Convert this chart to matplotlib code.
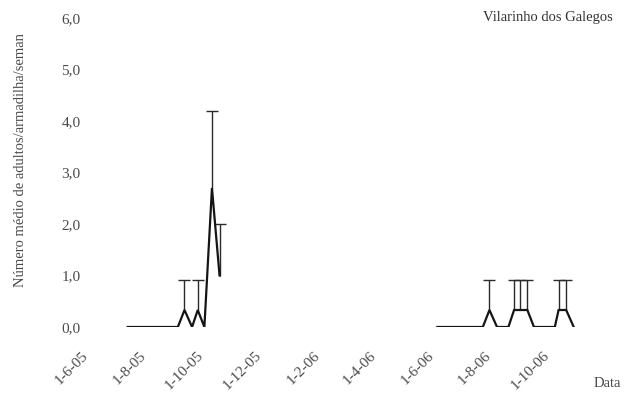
import datetime as dt

import matplotlib
matplotlib.use('Agg')
import matplotlib.pyplot as plt

plt.rcParams['font.family'] = ['Liberation Serif', 'DejaVu Serif']

# 2005 season (weekly trap readings)
datas_05 = ['2005-07-15', '2005-07-23', '2005-07-30', '2005-08-07', '2005-08-14',
            '2005-08-22', '2005-08-29', '2005-09-06', '2005-09-13', '2005-09-21',
            '2005-09-27', '2005-10-04', '2005-10-12', '2005-10-20']
media_05 = [0, 0, 0, 0, 0, 0, 0, 0, 0.33, 0, 0.33, 0, 2.7, 1.0]
erro_05 = [0, 0, 0, 0, 0, 0, 0, 0, 0.58, 0, 0.58, 0, 1.5, 1.0]

# 2006 season
datas_06 = ['2006-06-07', '2006-06-15', '2006-06-23', '2006-07-01', '2006-07-09',
            '2006-07-17', '2006-07-25', '2006-08-01', '2006-08-09', '2006-08-21',
            '2006-08-27', '2006-09-02', '2006-09-10', '2006-09-17', '2006-09-25',
            '2006-10-02', '2006-10-09', '2006-10-13', '2006-10-21', '2006-10-29']
media_06 = [0, 0, 0, 0, 0, 0, 0, 0.33, 0, 0, 0.33, 0.33, 0.33, 0, 0, 0, 0, 0.33, 0.33, 0]
erro_06 = [0, 0, 0, 0, 0, 0, 0, 0.58, 0, 0, 0.58, 0.58, 0.58, 0, 0, 0, 0, 0.58, 0.58, 0]

tick_datas = ['2005-06-01', '2005-08-01', '2005-10-01', '2005-12-01', '2006-02-01',
              '2006-04-01', '2006-06-01', '2006-08-01', '2006-10-01']
tick_labels = ['1-6-05', '1-8-05', '1-10-05', '1-12-05', '1-2-06',
               '1-4-06', '1-6-06', '1-8-06', '1-10-06']
y_ticks = [0, 1, 2, 3, 4, 5, 6]


def to_dates(lista):
    return [dt.datetime.strptime(d, '%Y-%m-%d') for d in lista]


texto = '#4a4a4a'
fig = plt.figure(figsize=(6.27, 3.97), dpi=100)
ax = fig.add_axes([86 / 627, 70 / 397, 519 / 627, 309 / 397])

for datas, media, erro in [(datas_05, media_05, erro_05), (datas_06, media_06, erro_06)]:
    d = to_dates(datas)
    # only the upper error bar is shown, capped at the top
    sel = [i for i, e in enumerate(erro) if e > 0]
    xs = [d[i] for i in sel]
    base = [media[i] for i in sel]
    topo = [media[i] + erro[i] for i in sel]
    ax.vlines(xs, base, topo, color='#2a2a2a', lw=1.0)
    ax.plot(xs, topo, ls='none', marker='_', markersize=8, mew=1.0, color='#2a2a2a')
    ax.plot(d, media, color='#151515', lw=1.6, solid_joinstyle='miter')

ax.set_xlim(dt.datetime(2005, 6, 1), dt.datetime(2006, 12, 1))
ax.set_ylim(0, 6)

ax.set_xticks(to_dates(tick_datas))
ax.set_xticklabels(tick_labels, rotation=45, ha='right', va='center',
                   rotation_mode='anchor', color=texto, fontsize=11)
ax.set_yticks(y_ticks)
ax.set_yticklabels([('%.1f' % v).replace('.', ',') for v in y_ticks],
                   color=texto, fontsize=11)
ax.tick_params(axis='x', length=0, pad=19)
ax.tick_params(axis='y', length=0, pad=4)

for s in ax.spines.values():
    s.set_visible(False)

ax.set_ylabel('Número médio de adultos/armadilha/seman', color=texto, fontsize=10.5)
ax.yaxis.set_label_coords(-0.113, 0.54)

fig.text(0.978, 0.955, 'Vilarinho dos Galegos', ha='right', va='center',
         color='#333333', fontsize=10.5)
fig.text(0.99, 0.035, 'Data', ha='right', va='center', color=texto, fontsize=10.5)

fig.savefig('out.png', dpi=100)
